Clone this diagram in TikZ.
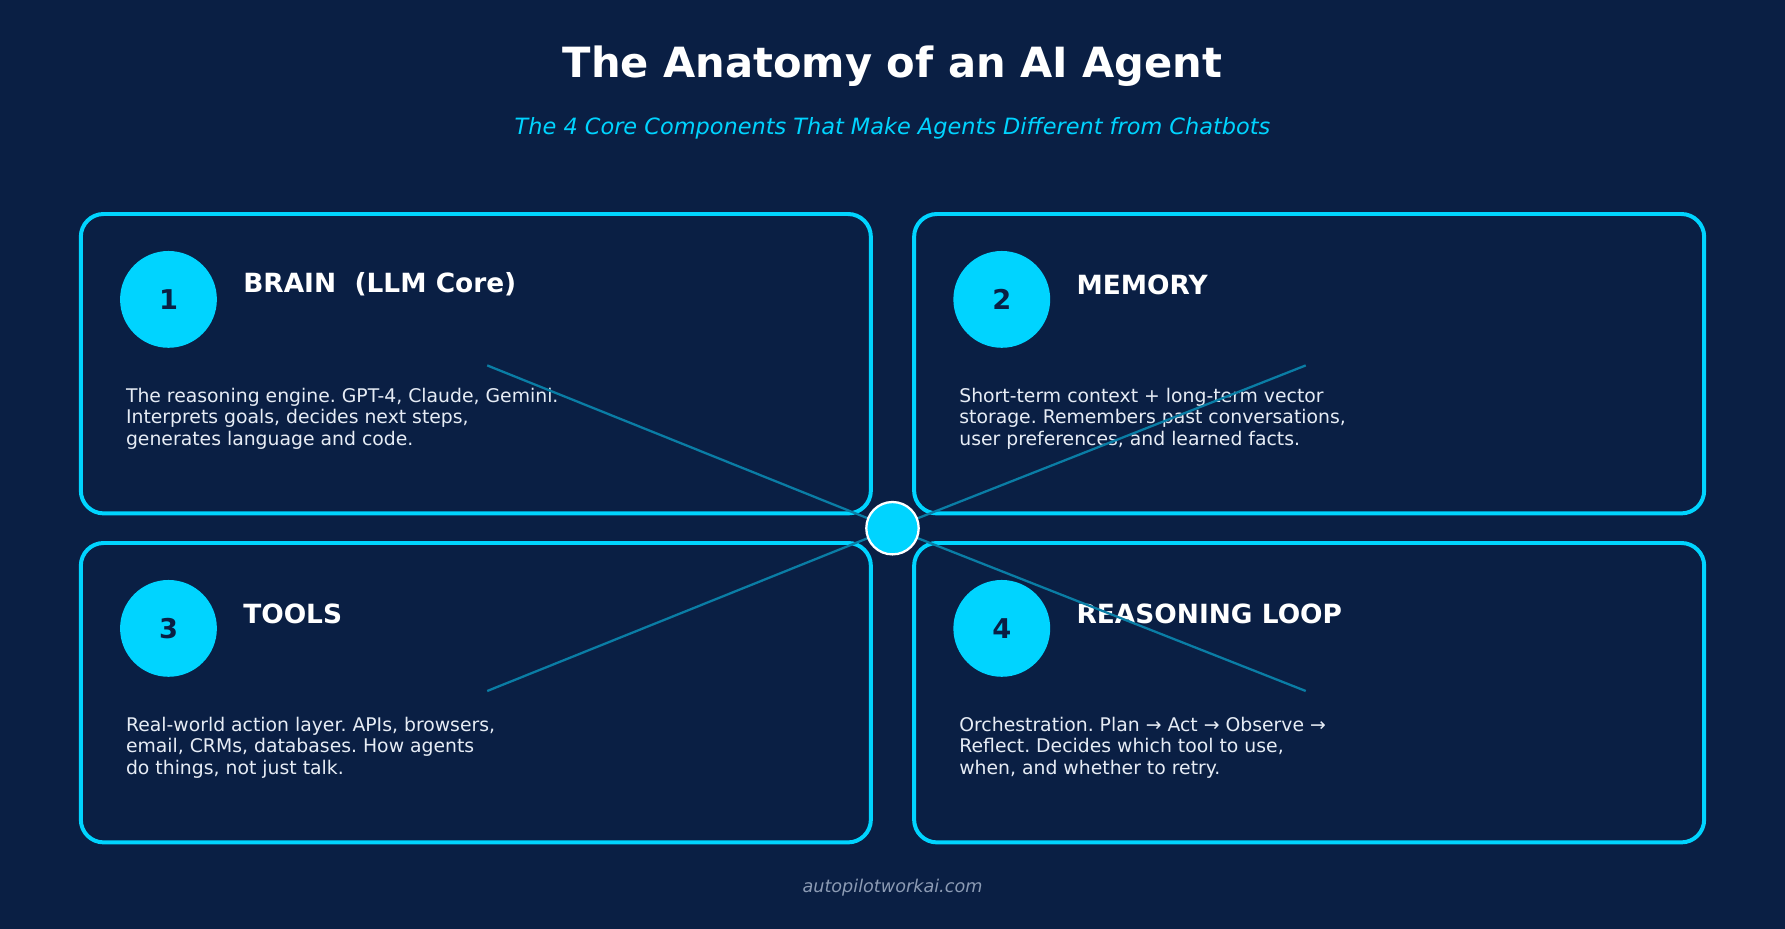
\documentclass[tikz,border=0pt]{standalone}
\usepackage{fontspec}
\setmainfont{DejaVu Sans}
\usetikzlibrary{positioning}
\definecolor{bgnavy}{RGB}{10,31,68}
\definecolor{cyanacc}{RGB}{0,212,255}
\definecolor{spoke}{RGB}{10,125,165}
\definecolor{bodytxt}{RGB}{230,236,245}
\definecolor{foot}{RGB}{140,155,180}
\frenchspacing
\begin{document}
\begin{tikzpicture}[x=0.01cm,y=-0.01cm,
  card/.style={draw=cyanacc,line width=0.035cm,fill=bgnavy,rounded corners=0.2cm},
  badge/.style={circle,fill=cyanacc,minimum size=0.85cm,inner sep=0pt,text=bgnavy,font=\fontsize{6.8}{8}\selectfont\bfseries},
  head/.style={anchor=west,text=white,font=\fontsize{6.6}{7.5}\selectfont\bfseries,inner sep=0pt},
  body/.style={anchor=north west,text=bodytxt,align=left,inner sep=0pt,font=\fontsize{4.7}{5.45}\selectfont},
  spokeline/.style={draw=spoke,line width=0.02cm}]
  \fill[bgnavy] (0,0) rectangle (1568,816);
  \useasboundingbox (0,0) rectangle (1568,816);

  \node[text=white,font=\fontsize{10.4}{12}\selectfont\bfseries] (title) at (784,58) {The Anatomy of an AI Agent};
  \node[text=cyanacc,font=\fontsize{5.6}{6.5}\selectfont\itshape] (sub) at (784,113) {The 4 Core Components That Make Agents Different from Chatbots};

  %% cards
  \draw[card] (71,188) rectangle (765,451);
  \draw[card] (803,188) rectangle (1497,451);
  \draw[card] (71,477) rectangle (765,740);
  \draw[card] (803,477) rectangle (1497,740);

  \node[badge] (b1) at (148,263) {1};
  \node[badge] (b2) at (880,263) {2};
  \node[badge] (b3) at (148,552) {3};
  \node[badge] (b4) at (880,552) {4};

  \node[head] (h1) at (213,250) {BRAIN\ \ (LLM Core)};
  \node[head] (h2) at (945,250) {MEMORY};
  \node[head] (h3) at (213,539) {TOOLS};
  \node[head] (h4) at (945,539) {REASONING LOOP};

  \node[body] (t1) at (110,340) {The reasoning engine. GPT-4, Claude, Gemini.\\Interprets goals, decides next steps,\\generates language and code.};
  \node[body] (t2) at (842,340) {Short-term context + long-term vector\\storage. Remembers past conversations,\\user preferences, and learned facts.};
  \node[body] (t3) at (110,629) {Real-world action layer. APIs, browsers,\\email, CRMs, databases. How agents\\do things, not just talk.};
  \node[body] (t4) at (842,629) {Orchestration. Plan → Act → Observe →\\Reflect. Decides which tool to use,\\when, and whether to retry.};

  %% spokes to the hub
  \coordinate (hubc) at (784,464);
  \coordinate (e1) at (428,321);
  \coordinate (e2) at (1147,321);
  \coordinate (e3) at (428,607);
  \coordinate (e4) at (1147,607);
  \foreach \e in {e1,e2,e3,e4}
    \draw[spokeline] (\e) -- (hubc);
  \node[circle,fill=cyanacc,draw=white,line width=0.02cm,minimum size=0.46cm,inner sep=0pt] (hub) at (hubc) {};

  \node[text=foot,font=\fontsize{4.4}{5}\selectfont\itshape] (footer) at (784,780) {autopilotworkai.com};
\end{tikzpicture}
\end{document}
